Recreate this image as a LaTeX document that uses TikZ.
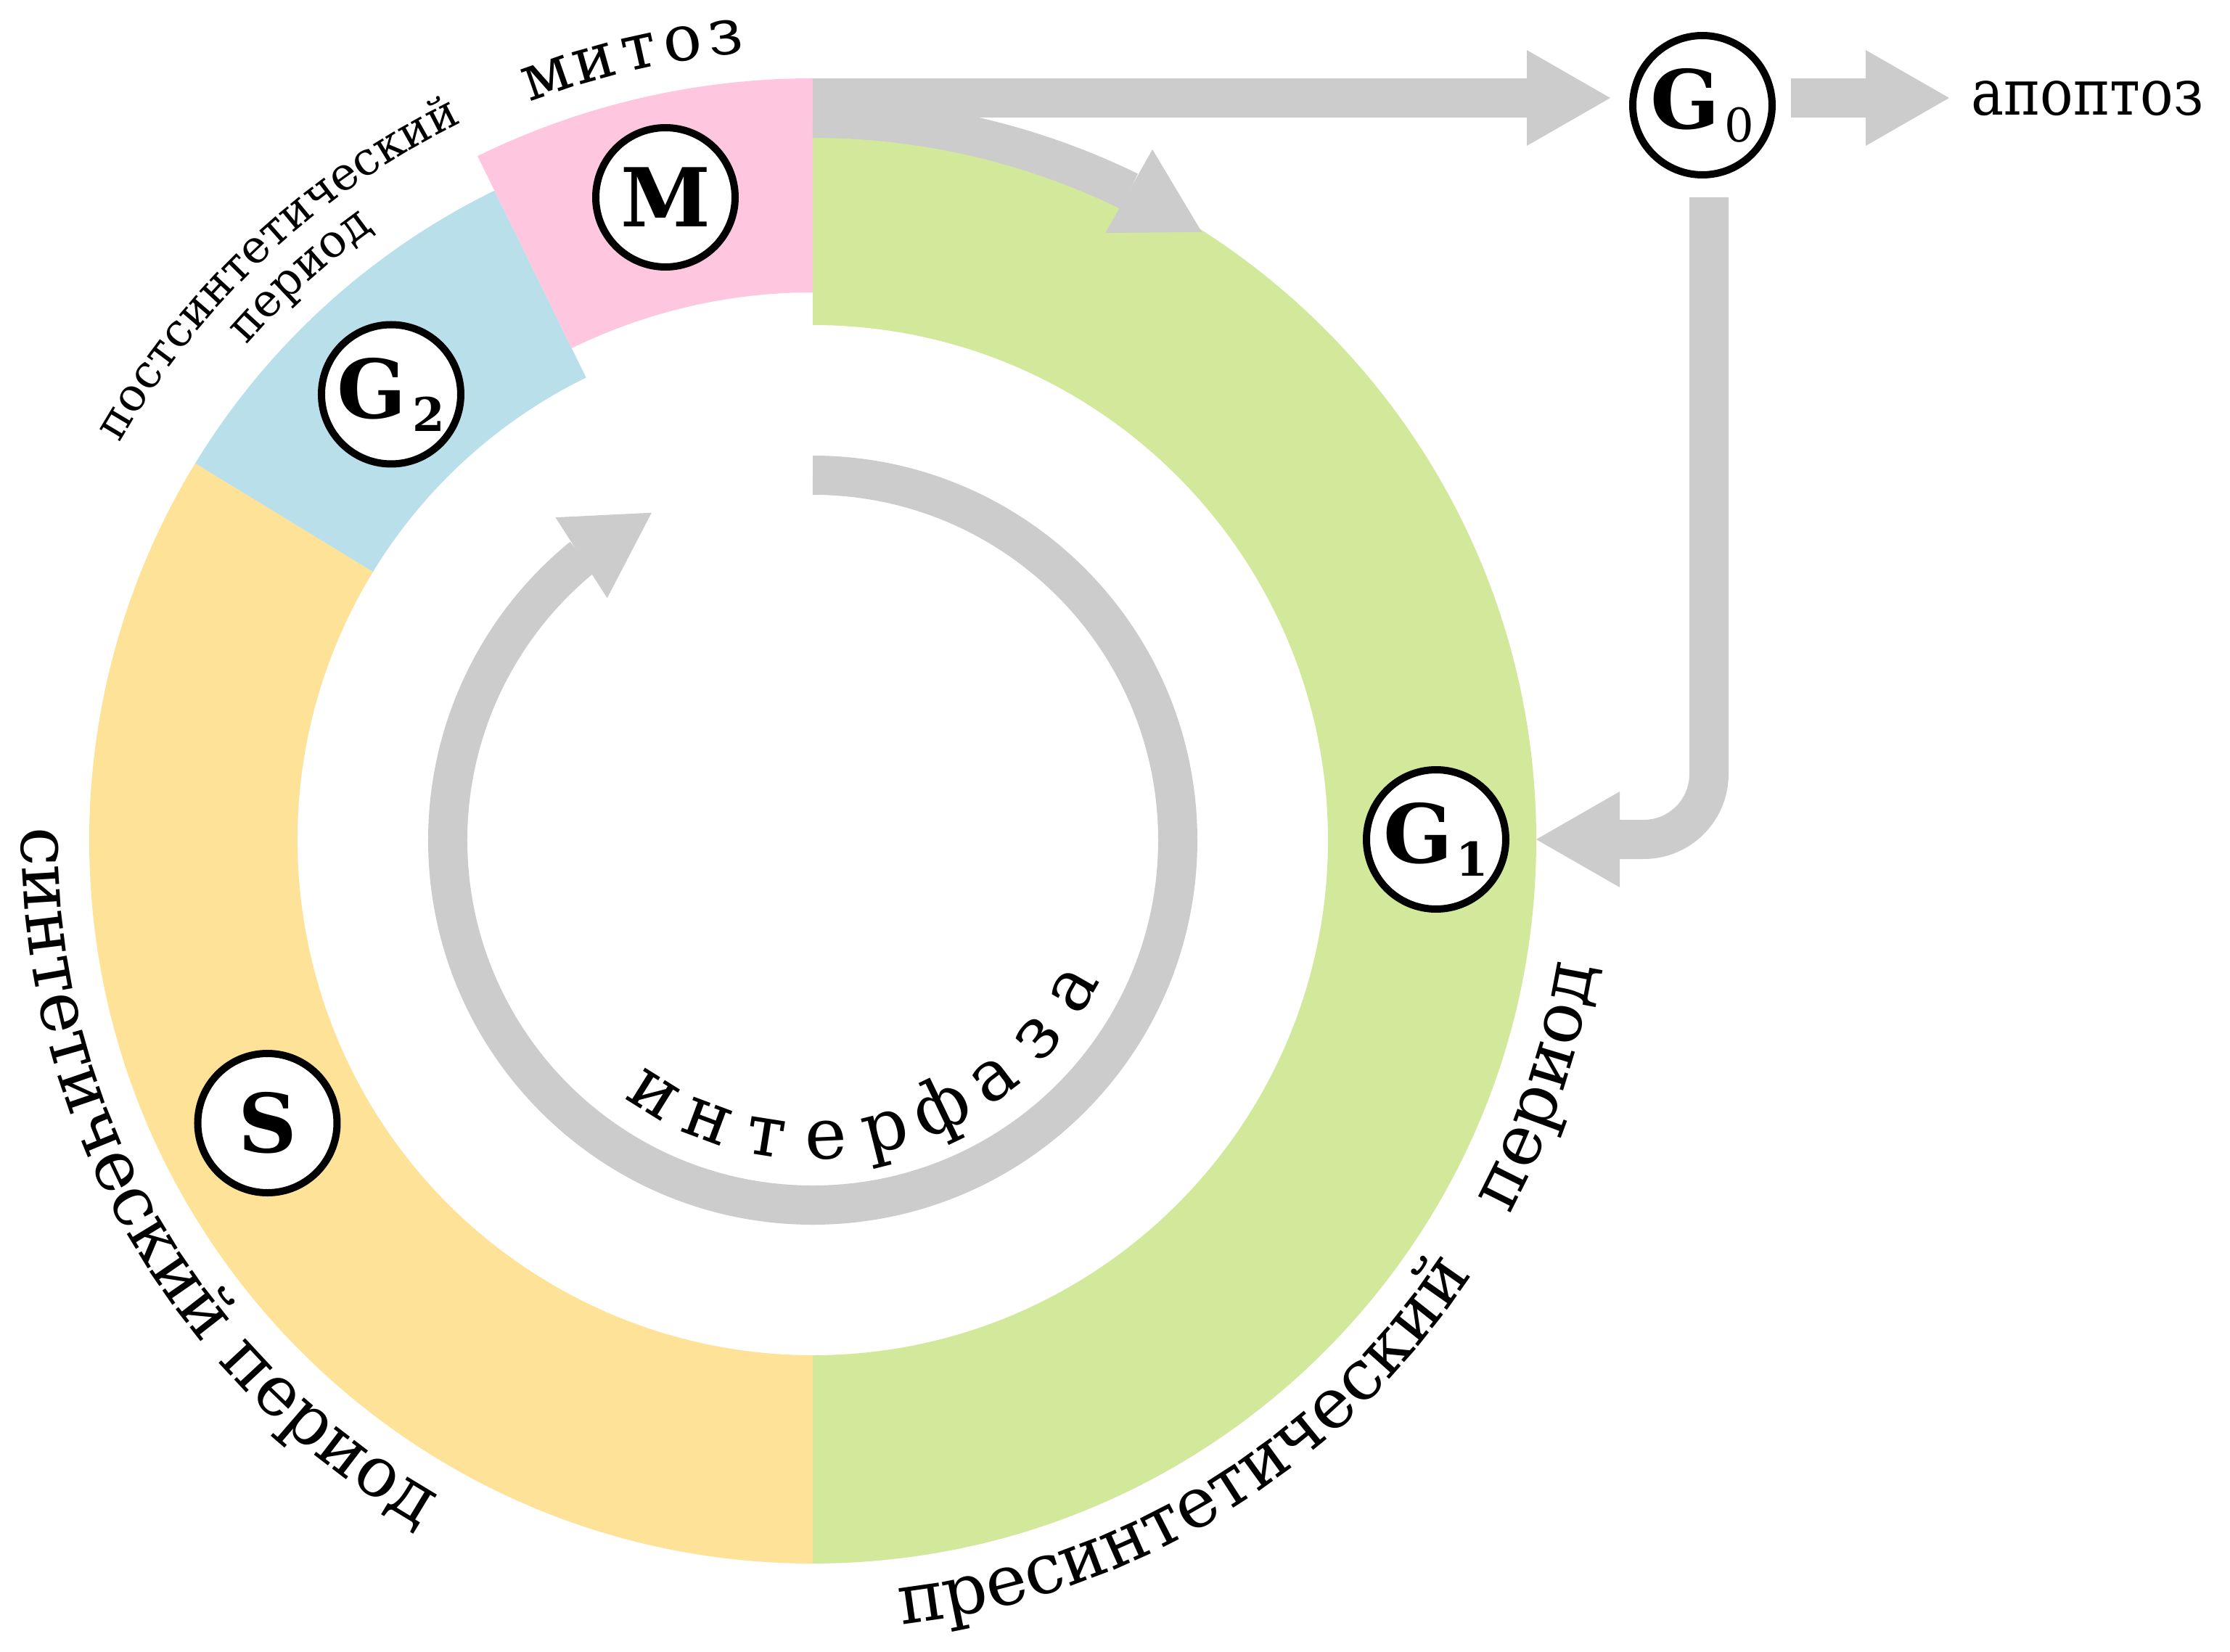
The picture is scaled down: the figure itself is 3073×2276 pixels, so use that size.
\documentclass[tikz,border=0pt]{standalone}
\usepackage{fontspec}
\setmainfont{DejaVu Serif}
\usepackage{graphicx}
\usetikzlibrary{arrows.meta,bending,decorations.text,calc}

\definecolor{cgreen}{HTML}{D2E99B}
\definecolor{cyellow}{HTML}{FDE297}
\definecolor{cblue}{HTML}{B9E0EA}
\definecolor{cpink}{HTML}{FEC7DF}
\definecolor{cgrey}{HTML}{CCCCCC}

\newcommand\fbig{\fontsize{96}{110}\selectfont}
\newcommand\fmid{\fontsize{88}{100}\selectfont}
\newcommand\fint{\fontsize{98}{110}\selectfont}
\newcommand\fsmall{\fontsize{63}{76}\selectfont}
\newcommand\flab{\fontsize{112}{116}\selectfont\bfseries}
\newcommand\fsubs{\fontsize{64}{64}\selectfont}
% G with subscript: #1 weight, #2 kern, #3 digit
\newcommand\Gs[3]{G\kern#2\raisebox{-18pt}{\fsubs#1 #3}}

\begin{document}
\begin{tikzpicture}[x=1pt,y=1pt,
  phase/.style={circle, draw=black, line width=10pt, fill=white,
    minimum size=192pt, inner sep=0pt, font=\flab},
  garrow/.style={draw=cgrey, line width=54pt,
    -{Triangle[length=115pt,width=132pt,line width=0pt]}},
  letter/.style={anchor=base, inner sep=0pt},
  ]

\fill[white] (-1120,-1118) rectangle (1953,1158);
\useasboundingbox (-1120,-1118) rectangle (1953,1158);

% ring sectors
\fill[cgreen] (-90:710pt) arc[start angle=-90,end angle=90,radius=710pt]
  -- (90:997pt) arc[start angle=90,end angle=-90,radius=997pt] -- cycle;
\fill[cyellow] (148.6:710pt) arc[start angle=148.6,end angle=270,radius=710pt]
  -- (270:997pt) arc[start angle=270,end angle=148.6,radius=997pt] -- cycle;
\fill[cblue] (116.1:710pt) arc[start angle=116.1,end angle=148.6,radius=710pt]
  -- (148.6:997pt) arc[start angle=148.6,end angle=116.1,radius=997pt] -- cycle;
\fill[cpink] (90:755pt) arc[start angle=90,end angle=116.1,radius=755pt]
  -- (116.1:1050pt) arc[start angle=116.1,end angle=90,radius=1050pt] -- cycle;

% curved arrows
\coordinate (ringtop) at (0,1023);
\coordinate (mstart) at (90:995pt);
\coordinate (innerstart) at (90:503pt);
\draw[garrow] (mstart) arc[start angle=90,end angle=57.4,radius=995pt];
\draw[garrow] (innerstart) arc[start angle=90,end angle=-243.8,radius=503pt];

% phase circles
\node[phase] (M) at (-203,886) {M};
\node[phase] (G2) at (-581,614.5) {\Gs{\bfseries}{-14pt}{2}};
\node[phase] (S) at (-751.5,-390) {S};
\node[phase] (G1) at (859,1) {\Gs{\bfseries}{-18pt}{1}};
\node[phase] (G0) at (1226,1013) {\Gs{\mdseries}{-14pt}{0}};
\node[anchor=base west, inner sep=0pt, font=\fmid] (apo) at (1596,999) {\scalebox{0.86}[1]{апоптоз}};

% straight arrows
\draw[garrow, shorten >=26pt] (ringtop) -- (ringtop -| G0.west);
\draw[garrow, shorten <=21pt, shorten >=30pt] (G0.east |- ringtop) -- (apo.west |- ringtop);
\draw[garrow, rounded corners=90pt, shorten >=37pt] ($(G0.south)+(9,-26)$) |- (G1.east);

% texts along arcs
\path[decorate, decoration={text along path, text align=center,
  text={|\fbig|синтетический период}}]
  (159.7:1090pt) arc[start angle=159.7,end angle=259.7,radius=1090pt];
\path[decorate, decoration={text along path, text align=center,
  text={|\fbig|пресинтетический}}]
  (-98.45:1088pt) arc[start angle=-98.45,end angle=-18.45,radius=1088pt];
\path[decorate, decoration={text along path, text align=center,
  text={|\fbig|период}}]
  (-38.7:1090pt) arc[start angle=-38.7,end angle=1.3,radius=1090pt];
\path[decorate, decoration={text along path, text align=center,
  text={|\fsmall|постсинтетический}}]
  (163.1:1101pt) arc[start angle=163.1,end angle=103.1,radius=1101pt];
\path[decorate, decoration={text along path, text align=center,
  text={|\fsmall|период}}]
  (152.25:1037pt) arc[start angle=152.25,end angle=112.25,radius=1037pt];

% spaced letters
\foreach \ch [count=\i from 0] in {и,н,т,е,р,ф,а,з,а} {
  \pgfmathsetmacro\ang{-122+11.525*\i}
  \node[letter, font=\fint, rotate=\ang+90] (int\i) at (\ang:440pt) {\ch};
}
\foreach \ch/\ang [count=\i from 0] in {м/109.2,и/105.66,т/102.42,о/99.27,з/96.2} {
  \node[letter, font=\fmid, rotate=\ang-90] (mit\i) at (\ang:1089pt) {\ch};
}
\end{tikzpicture}
\end{document}
